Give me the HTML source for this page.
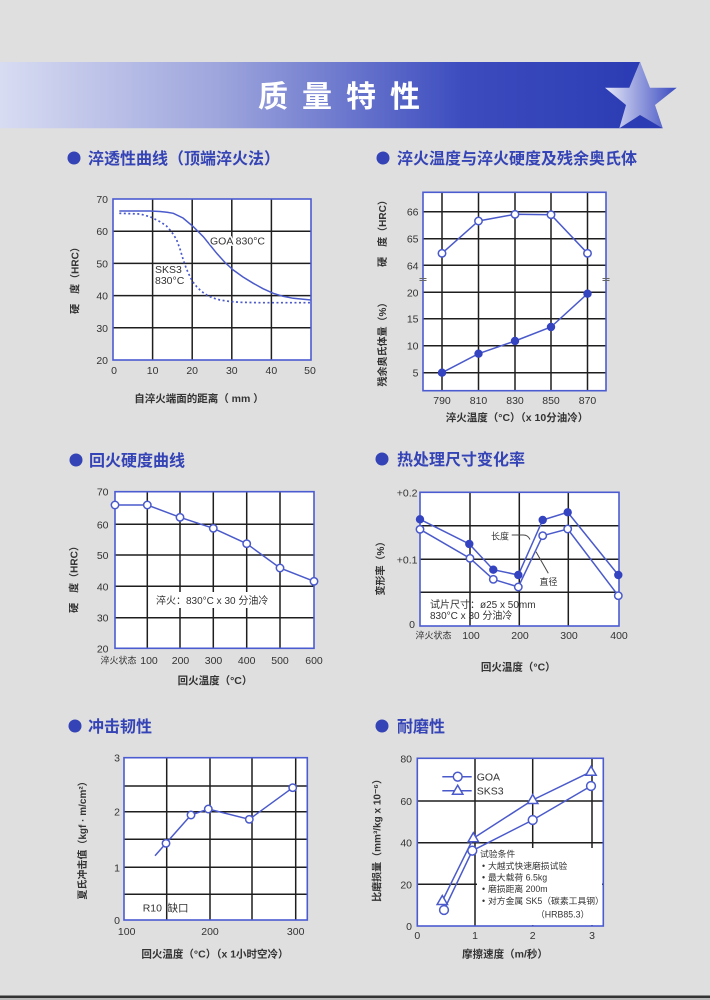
<!DOCTYPE html>
<html><head><meta charset="utf-8"><style>
html,body{margin:0;padding:0;background:#dfdfdf;}
svg{display:block;}
text{font-family:"Liberation Sans","Noto Sans CJK SC",sans-serif;}
.t{font-size:10.5px;fill:#333;}
.ax{font-size:10px;fill:#333;font-weight:bold;}
.sec{font-size:16px;fill:#3443b5;font-weight:bold;}
.g{stroke:#1e1e1e;stroke-width:1.5;fill:none;}
.b{stroke:#4b5bd0;stroke-width:1.6;fill:none;}
.s{stroke:#4a5acb;stroke-width:1.5;fill:none;}
.o{stroke:#4a5acb;stroke-width:1.5;fill:#fff;}
.f{stroke:#3443c0;stroke-width:1;fill:#3443c0;}
.h{paint-order:stroke;stroke:#fff;stroke-width:3px;}
</style></head><body>
<svg width="710" height="1000" viewBox="0 0 710 1000" xmlns="http://www.w3.org/2000/svg">
<defs>
<linearGradient id="bar" gradientUnits="userSpaceOnUse" x1="0" y1="0" x2="640" y2="0">
<stop offset="0" stop-color="#d8dcf2"/><stop offset="0.35" stop-color="#9ca4dc"/><stop offset="0.72" stop-color="#3d4dbf"/><stop offset="1" stop-color="#2b3bb3"/>
</linearGradient>
<linearGradient id="star" gradientUnits="userSpaceOnUse" x1="605" y1="0" x2="677" y2="0">
<stop offset="0" stop-color="#e6e8f7"/><stop offset="1" stop-color="#3a4ac0"/>
</linearGradient>
</defs>
<rect width="710" height="1000" fill="#dfdfdf"/>
<!-- header -->
<path d="M0,62 L640,62 L662.7,128.3 L0,128.3 Z" fill="url(#bar)"/>
<polygon points="640,61.7 650,87.7 676.7,87.7 655,105 662.7,128.3 640,115 619.3,128.3 626,105 605,87.7 629.3,87.7" fill="url(#star)"/>
<text x="258" y="107" style="font-size:30px;font-weight:bold;fill:#fff;letter-spacing:14px">质量特性</text>

<!-- section titles -->
<circle cx="74" cy="158" r="6.5" fill="#3443b5"/><text class="sec" x="88" y="164">淬透性曲线（顶端淬火法）</text>
<circle cx="383" cy="158" r="6.5" fill="#3443b5"/><text class="sec" x="397" y="164">淬火温度与淬火硬度及残余奥氏体</text>
<circle cx="76" cy="460" r="6.5" fill="#3443b5"/><text class="sec" x="89" y="466">回火硬度曲线</text>
<circle cx="382" cy="459" r="6.5" fill="#3443b5"/><text class="sec" x="397" y="465">热处理尺寸变化率</text>
<circle cx="75" cy="726" r="6.5" fill="#3443b5"/><text class="sec" x="88" y="732">冲击韧性</text>
<circle cx="382" cy="726" r="6.5" fill="#3443b5"/><text class="sec" x="397" y="732">耐磨性</text>

<!-- ============ Chart 1 ============ -->
<rect x="113" y="199" width="198" height="161" fill="#fff"/>
<path class="g" d="M152.6,199V360M192.2,199V360M231.8,199V360M271.4,199V360M113,231.2H311M113,263.4H311M113,295.6H311M113,327.8H311"/>
<polyline class="s" points="119.3,211 150,211 160,211.5 167,212.3 173.3,213.3 183,218 193.3,226.7 203.3,236.7 210,245 216.7,253.3 225,262.5 233.3,270 243,277 253.3,283.3 263,288.7 273.3,293.3 283,296.3 293.3,298.3 311,300"/>
<polyline class="s" style="stroke-dasharray:2 2.5;stroke-width:1.7" points="119.3,213.3 140,214 150,216.7 160,221.7 166,225.5 170,230 173.5,234.5 176.7,240 180,249 183.3,260 186.5,269 190,276.7 193,282 196.7,286.7 201,291 206.7,295 213,298 220,300 230,301.5 240,302.3 260,302.7 311,302.7"/>
<rect class="b" x="113" y="199" width="198" height="161"/>
<text class="t h" x="210" y="244.5">GOA 830°C</text>
<text class="t" x="155" y="273">SKS3</text>
<text class="t" x="155" y="284">830°C</text>
<g class="t" text-anchor="end">
<text x="108" y="203">70</text><text x="108" y="235.2">60</text><text x="108" y="267.4">50</text><text x="108" y="299.6">40</text><text x="108" y="331.8">30</text><text x="108" y="364">20</text>
</g>
<g class="t" text-anchor="middle">
<text x="114" y="374">0</text><text x="152.6" y="374">10</text><text x="192.2" y="374">20</text><text x="231.8" y="374">30</text><text x="271.4" y="374">40</text><text x="310" y="374">50</text>
</g>
<text class="ax" x="199" y="402" text-anchor="middle" style="font-size:10.5px">自淬火端面的距离（ mm ）</text>
<text class="ax" transform="translate(76,278) rotate(-90)" text-anchor="middle" dominant-baseline="central">硬　度（HRC）</text>

<!-- ============ Chart 2 ============ -->
<rect x="423" y="192.3" width="183" height="198.4" fill="#fff"/>
<path class="g" d="M442,192.3V390.7M478.5,192.3V390.7M515,192.3V390.7M551,192.3V390.7M587.5,192.3V390.7M423,211.7H606M423,238.7H606M423,265.3H606M423,292.3H606M423,318.7H606M423,345.7H606M423,372.7H606"/>
<polyline class="s" points="442,253.3 478.5,221 515,214.3 551,214.7 587.5,253.3"/>
<polyline class="s" points="442,372.7 478.5,353.7 515,341 551,327 587.5,293.7"/>
<rect class="b" x="423" y="192.3" width="183" height="198.4"/>
<path d="M419.5,278.5H426.5M419.5,280.5H426.5M602.5,278.5H609.5M602.5,280.5H609.5" stroke="#666" stroke-width="0.9"/>
<g>
<circle class="o" cx="442" cy="253.3" r="3.7"/><circle class="o" cx="478.5" cy="221" r="3.7"/><circle class="o" cx="515" cy="214.3" r="3.7"/><circle class="o" cx="551" cy="214.7" r="3.7"/><circle class="o" cx="587.5" cy="253.3" r="3.7"/>
<circle class="f" cx="442" cy="372.7" r="3.7"/><circle class="f" cx="478.5" cy="353.7" r="3.7"/><circle class="f" cx="515" cy="341" r="3.7"/><circle class="f" cx="551" cy="327" r="3.7"/><circle class="f" cx="587.5" cy="293.7" r="3.7"/>
</g>
<g class="t" text-anchor="end">
<text x="418.5" y="215.7">66</text><text x="418.5" y="242.7">65</text><text x="418.5" y="269.3">64</text><text x="418.5" y="296.3">20</text><text x="418.5" y="322.7">15</text><text x="418.5" y="349.7">10</text><text x="418.5" y="376.7">5</text>
</g>
<g class="t" text-anchor="middle">
<text x="442" y="404">790</text><text x="478.5" y="404">810</text><text x="515" y="404">830</text><text x="551" y="404">850</text><text x="587.5" y="404">870</text>
</g>
<text class="ax" x="517" y="421" text-anchor="middle" style="font-size:10.5px">淬火温度（°C）（x 10分油冷）</text>
<text class="ax" transform="translate(383.5,231) rotate(-90)" text-anchor="middle" dominant-baseline="central">硬　度（HRC）</text>
<text class="ax" transform="translate(383.5,342) rotate(-90)" text-anchor="middle" dominant-baseline="central">残余奥氏体量（%）</text>

<!-- ============ Chart 3 ============ -->
<rect x="115" y="491.7" width="199" height="156.6" fill="#fff"/>
<path class="g" d="M147.3,491.7V648.3M180,491.7V648.3M213.3,491.7V648.3M246.7,491.7V648.3M280,491.7V648.3M115,524.3H314M115,555H314M115,586.3H314M115,617.7H314"/>
<rect x="153" y="592" width="118" height="16" fill="#fff"/>
<text class="t" x="156" y="604" style="font-size:10px">淬火：830°C x 30 分油冷</text>
<polyline class="s" points="115,505 147.3,505 180,517.3 213.3,528.3 246.7,543.7 280,568 314,581.3"/>
<rect class="b" x="115" y="491.7" width="199" height="156.6"/>
<g>
<circle class="o" cx="115" cy="505" r="3.7"/><circle class="o" cx="147.3" cy="505" r="3.7"/><circle class="o" cx="180" cy="517.3" r="3.7"/><circle class="o" cx="213.3" cy="528.3" r="3.7"/><circle class="o" cx="246.7" cy="543.7" r="3.7"/><circle class="o" cx="280" cy="568" r="3.7"/><circle class="o" cx="314" cy="581.3" r="3.7"/>
</g>
<g class="t" text-anchor="end">
<text x="108.5" y="495.7">70</text><text x="108.5" y="528.3">60</text><text x="108.5" y="559">50</text><text x="108.5" y="590.3">40</text><text x="108.5" y="621.7">30</text><text x="108.5" y="652.3">20</text>
</g>
<g class="t" text-anchor="middle">
<text x="118.5" y="663.5" style="font-size:9px">淬火状态</text>
<text x="149" y="664">100</text><text x="180.5" y="664">200</text><text x="213.5" y="664">300</text><text x="246.7" y="664">400</text><text x="280" y="664">500</text><text x="314" y="664">600</text>
</g>
<text class="ax" x="215" y="684" text-anchor="middle" style="font-size:10.5px">回火温度（°C）</text>
<text class="ax" transform="translate(75,577) rotate(-90)" text-anchor="middle" dominant-baseline="central">硬　度（HRC）</text>

<!-- ============ Chart 4 ============ -->
<rect x="420" y="492.3" width="199" height="133.7" fill="#fff"/>
<path class="g" d="M470,492.3V626M519.3,492.3V626M568.3,492.3V626M420,525.7H619M420,559.3H619M420,592.3H619"/>
<rect x="428" y="597.5" width="38" height="24" fill="#fff"/>
<rect x="473" y="597.5" width="44" height="24" fill="#fff"/>
<text class="t" x="430" y="608" style="font-size:10px">试片尺寸：ø25 x 50mm</text>
<text class="t" x="430" y="619" style="font-size:10px">830°C x 30 分油冷</text>
<polyline class="s" points="420,519.3 469.3,544 493.3,569.7 518.3,575 542.7,520 567.7,512.3 618.3,575"/>
<polyline class="s" points="420,529.3 470,558.3 493.3,579.3 518.3,587 542.7,535.7 567.7,529 618.3,595.7"/>
<rect class="b" x="420" y="492.3" width="199" height="133.7"/>
<g>
<circle class="f" cx="420" cy="519.3" r="3.7"/><circle class="f" cx="469.3" cy="544" r="3.7"/><circle class="f" cx="493.3" cy="569.7" r="3.7"/><circle class="f" cx="518.3" cy="575" r="3.7"/><circle class="f" cx="542.7" cy="520" r="3.7"/><circle class="f" cx="567.7" cy="512.3" r="3.7"/><circle class="f" cx="618.3" cy="575" r="3.7"/>
<circle class="o" cx="420" cy="529.3" r="3.7"/><circle class="o" cx="470" cy="558.3" r="3.7"/><circle class="o" cx="493.3" cy="579.3" r="3.7"/><circle class="o" cx="518.3" cy="587" r="3.7"/><circle class="o" cx="542.7" cy="535.7" r="3.7"/><circle class="o" cx="567.7" cy="529" r="3.7"/><circle class="o" cx="618.3" cy="595.7" r="3.7"/>
</g>
<text class="t" x="491" y="539.5" style="font-size:9px">长度</text>
<path d="M511.7,535H523.3Q528,535 530,539.5" stroke="#444" stroke-width="1" fill="none"/>
<text class="t" x="539.5" y="585" style="font-size:9px">直径</text>
<path d="M536,551.7L548.3,573.3" stroke="#444" stroke-width="1" fill="none"/>
<g class="t" text-anchor="end">
<text x="417.5" y="496.3">+0.2</text><text x="417.5" y="563.3">+0.1</text><text x="415" y="628">0</text>
</g>
<g class="t" text-anchor="middle">
<text x="433.5" y="638.5" style="font-size:9px">淬火状态</text>
<text x="471" y="639">100</text><text x="520" y="639">200</text><text x="569" y="639">300</text><text x="619" y="639">400</text>
</g>
<text class="ax" x="518.3" y="670.7" text-anchor="middle" style="font-size:10.5px">回火温度（°C）</text>
<text class="ax" transform="translate(381.7,566) rotate(-90)" text-anchor="middle" dominant-baseline="central">变形率（%）</text>

<!-- ============ Chart 5 ============ -->
<rect x="124" y="757.7" width="183.3" height="162.3" fill="#fff"/>
<path class="g" d="M166.7,757.7V920M210,757.7V920M252,757.7V920M295.7,757.7V920M124,786H307.3M124,811.7H307.3M124,839.3H307.3M124,867.3H307.3M124,894.3H307.3"/>
<polyline class="s" points="155,855.7 166,843.3 191,815 208.3,809 249.3,819.3 292.7,787.7"/>
<rect class="b" x="124" y="757.7" width="183.3" height="162.3"/>
<g>
<circle class="o" cx="166" cy="843.3" r="3.7"/><circle class="o" cx="191" cy="815" r="3.7"/><circle class="o" cx="208.3" cy="809" r="3.7"/><circle class="o" cx="249.3" cy="819.3" r="3.7"/><circle class="o" cx="292.7" cy="787.7" r="3.7"/>
</g>
<text class="t" x="142.7" y="911.3">R10</text>
<text class="t" x="167.5" y="911.3">缺口</text>
<g class="t" text-anchor="middle">
<text x="117" y="761.7">3</text><text x="117" y="815.7">2</text><text x="117" y="871.3">1</text><text x="117" y="924">0</text>
<text x="126.7" y="935">100</text><text x="210" y="935">200</text><text x="295.7" y="935">300</text>
</g>
<text class="ax" x="215" y="957.3" text-anchor="middle" style="font-size:10.5px">回火温度（°C）（x 1小时空冷）</text>
<text class="ax" transform="translate(83.3,838) rotate(-90)" text-anchor="middle" dominant-baseline="central">夏氏冲击值（kgf · m/cm²）</text>

<!-- ============ Chart 6 ============ -->
<rect x="417.3" y="758.3" width="186" height="167.7" fill="#fff"/>
<path class="g" d="M475,758.3V926M532.7,758.3V926M592,758.3V926M417.3,801H603.3M417.3,842.7H603.3M417.3,884.3H603.3"/>
<rect x="477" y="848" width="125" height="77" fill="#fff"/>
<polyline class="s" points="444,910 472.3,850.7 532.7,820 591,786"/>
<polyline class="s" points="442.3,901 473.3,838.3 532.7,800 591,771.7"/>
<rect class="b" x="417.3" y="758.3" width="186" height="167.7"/>
<g>
<circle class="o" cx="444" cy="910" r="4.4"/><circle class="o" cx="472.3" cy="850.7" r="4.4"/><circle class="o" cx="532.7" cy="820" r="4.4"/><circle class="o" cx="591" cy="786" r="4.4"/>
<polygon class="o" points="442.3,895.5 447.5,904.5 437.1,904.5"/><polygon class="o" points="473.3,832.8 478.5,841.8 468.1,841.8"/><polygon class="o" points="532.7,794.5 537.9,803.5 527.5,803.5"/><polygon class="o" points="591,766.2 596.2,775.2 585.8,775.2"/>
</g>
<!-- legend -->
<path class="s" d="M442.3,776.7H471.7M442.3,790.7H471.7"/>
<circle class="o" cx="457.7" cy="776.7" r="4.4"/>
<polygon class="o" points="457.7,785.2 462.9,794.2 452.5,794.2"/>
<text class="t" x="476.7" y="780.5">GOA</text>
<text class="t" x="476.7" y="794.5">SKS3</text>
<!-- conditions -->
<g class="t" style="font-size:8.8px">
<text x="480" y="857">试验条件</text>
<text x="482" y="869">•</text><text x="488" y="869">大越式快速磨损试验</text>
<text x="482" y="880.5">•</text><text x="488" y="880.5">最大载荷 6.5kg</text>
<text x="482" y="892">•</text><text x="488" y="892">磨损距离 200m</text>
<text x="482" y="904">•</text><text x="488" y="904">对方金属 SK5（碳素工具钢）</text>
<text x="536" y="917.5">（HRB85.3）</text>
</g>
<g class="t" text-anchor="end">
<text x="412" y="762.3">80</text><text x="412" y="805">60</text><text x="412" y="846.7">40</text><text x="412" y="888.3">20</text><text x="412" y="930">0</text>
</g>
<g class="t" text-anchor="middle">
<text x="417.3" y="939">0</text><text x="475" y="939">1</text><text x="532.7" y="939">2</text><text x="592" y="939">3</text>
</g>
<text class="ax" x="505" y="957.3" text-anchor="middle" style="font-size:10.5px">摩擦速度（m/秒）</text>
<text class="ax" transform="translate(378,838) rotate(-90)" text-anchor="middle" dominant-baseline="central">比磨损量（mm³/kg x 10⁻⁶）</text>

<!-- bottom rule -->
<rect x="0" y="995.5" width="710" height="2.5" fill="#333"/>
<rect x="0" y="998" width="710" height="2" fill="#b8b8b8"/>
</svg>
</body></html>
